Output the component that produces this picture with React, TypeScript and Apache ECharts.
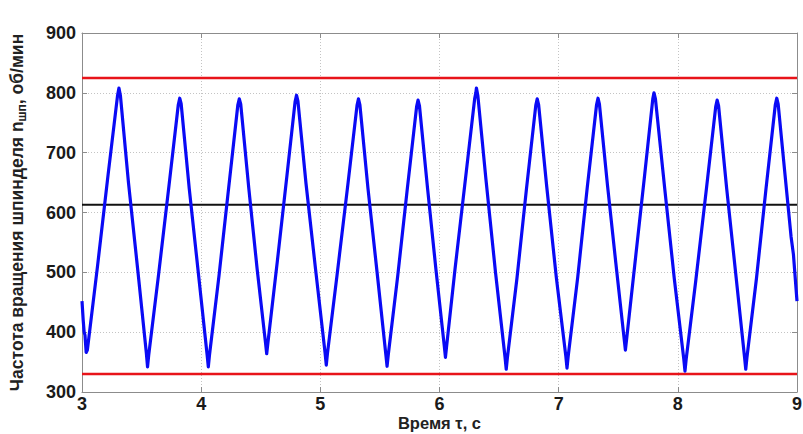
import React, { useEffect, useRef } from "react";
import * as echarts from "echarts";

// Time, s
const timeS: number[] = [
  3.0, 3.01, 3.018, 3.025, 3.035, 3.045, 3.13, 3.22, 3.298, 3.31, 3.322, 3.39, 3.47, 3.54, 3.55,
  3.56, 3.64, 3.73, 3.808, 3.82, 3.832, 3.9, 3.98, 4.05, 4.06,
  4.07, 4.15, 4.23, 4.308, 4.32, 4.332, 4.4, 4.47, 4.54, 4.55,
  4.56, 4.64, 4.72, 4.788, 4.8, 4.812, 4.88, 4.96, 5.04, 5.05,
  5.06, 5.14, 5.23, 5.308, 5.32, 5.332, 5.4, 5.48, 5.55, 5.56,
  5.57, 5.65, 5.73, 5.808, 5.82, 5.832, 5.9, 5.97, 6.04, 6.05,
  6.06, 6.13, 6.22, 6.295, 6.305, 6.31, 6.322, 6.39, 6.47, 6.55, 6.56,
  6.57, 6.65, 6.73, 6.808, 6.82, 6.832, 6.9, 6.98, 7.06, 7.07,
  7.08, 7.16, 7.24, 7.318, 7.33, 7.342, 7.41, 7.48, 7.55, 7.56,
  7.57, 7.64, 7.72, 7.79, 7.8, 7.812, 7.89, 7.97, 8.05, 8.06,
  8.07, 8.15, 8.24, 8.318, 8.33, 8.342, 8.41, 8.49, 8.56, 8.57,
  8.58, 8.66, 8.74, 8.818, 8.83, 8.842, 8.9, 8.95, 8.97, 9.0,
];

// Spindle speed, rpm
const speedRpm: number[] = [
  452, 420, 400, 395, 366, 370, 510, 665, 795, 808, 796, 650, 500, 365, 342,
  362, 492, 645, 780, 791, 782, 640, 492, 362, 342,
  362, 495, 640, 780, 790, 781, 640, 505, 382, 364,
  382, 520, 662, 785, 796, 786, 648, 505, 365, 345,
  365, 495, 645, 779, 790, 780, 640, 493, 362, 343,
  362, 495, 640, 777, 788, 778, 640, 505, 377, 358,
  377, 505, 660, 790, 800, 808, 795, 655, 500, 358, 338,
  358, 490, 640, 779, 790, 780, 643, 492, 360, 340,
  360, 492, 642, 780, 791, 781, 645, 515, 388, 370,
  388, 515, 660, 790, 800, 790, 640, 490, 355, 335,
  355, 485, 640, 777, 788, 778, 640, 490, 358, 338,
  358, 490, 640, 780, 791, 781, 662, 560, 530, 452,
];

const upperLimit = 825;
const lowerLimit = 330;
const meanLevel = 613;

const xTicks = [3, 4, 5, 6, 7, 8, 9];
const yTicks = [300, 400, 500, 600, 700, 800, 900];

export default function App() {
  const ref = useRef<HTMLDivElement>(null);

  useEffect(() => {
    if (!ref.current) return;
    const chart = echarts.init(ref.current, null, { renderer: "svg" });
    const frame = "#8c8c8c";
    const font = "'Liberation Sans', Arial, sans-serif";
    const speedData = timeS.map((t, i) => [t, speedRpm[i]]);
    const xMin = xTicks[0];
    const xMax = xTicks[xTicks.length - 1];
    const yMin = yTicks[0];
    const yMax = yTicks[yTicks.length - 1];

    chart.setOption({
      animation: false,
      backgroundColor: "#ffffff",
      grid: {
        left: 82,
        right: 6,
        top: 33,
        bottom: 42,
        containLabel: false,
        outerBoundsMode: "none",
      },
      xAxis: [
        {
          type: "value",
          min: xMin,
          max: xMax,
          interval: 1,
          name: "Время τ, с",
          nameLocation: "middle",
          nameGap: 22,
          nameMoveOverlap: false,
          nameTextStyle: {
            fontFamily: font,
            fontSize: 16.5,
            fontWeight: "bold",
            color: "#222",
            lineHeight: 18,
          },
          axisLine: { show: true, lineStyle: { color: frame, width: 1 } },
          axisTick: { show: true, inside: true, length: 5, lineStyle: { color: frame } },
          axisLabel: { fontFamily: font, fontSize: 18, fontWeight: "bold", color: "#1a1a1a", margin: 3 },
          splitLine: { show: true, lineStyle: { color: "#c4c4c4", type: [1, 2], width: 1 } },
        },
        {
          type: "value",
          position: "top",
          min: xMin,
          max: xMax,
          interval: 1,
          axisLine: { show: true, lineStyle: { color: frame, width: 1 } },
          axisTick: { show: true, inside: true, length: 5, lineStyle: { color: frame } },
          axisLabel: { show: false },
          splitLine: { show: false },
        },
      ],
      yAxis: [
        {
          type: "value",
          min: yMin,
          max: yMax,
          interval: 100,
          name: "Частота вращения шпинделя n{sub|шп}, об/мин",
          nameLocation: "middle",
          nameRotate: 90,
          nameGap: 54,
          nameMoveOverlap: false,
          nameTextStyle: {
            fontFamily: font,
            fontSize: 17.5,
            fontWeight: "bold",
            color: "#222",
            lineHeight: 22,
            rich: {
              sub: {
                fontFamily: font,
                fontSize: 12,
                fontWeight: "bold",
                color: "#222",
                verticalAlign: "bottom",
                lineHeight: 22,
                padding: [10, 0, 0, 0],
              },
            },
          },
          axisLine: { show: true, lineStyle: { color: frame, width: 1 } },
          axisTick: { show: true, inside: true, length: 5, lineStyle: { color: frame } },
          axisLabel: { fontFamily: font, fontSize: 18, fontWeight: "bold", color: "#1a1a1a", margin: 6 },
          splitLine: { show: true, lineStyle: { color: "#c4c4c4", type: [1, 2], width: 1 } },
        },
        {
          type: "value",
          position: "right",
          min: yMin,
          max: yMax,
          interval: 100,
          axisLine: { show: true, lineStyle: { color: frame, width: 1 } },
          axisTick: { show: true, inside: true, length: 5, lineStyle: { color: frame } },
          axisLabel: { show: false },
          splitLine: { show: false },
        },
      ],
      series: [
        {
          type: "line",
          data: [[xMin, upperLimit], [xMax, upperLimit]],
          showSymbol: false,
          lineStyle: { color: "#e8141a", width: 2.5 },
          silent: true,
        },
        {
          type: "line",
          data: [[xMin, lowerLimit], [xMax, lowerLimit]],
          showSymbol: false,
          lineStyle: { color: "#e8141a", width: 2.5 },
          silent: true,
        },
        {
          type: "line",
          data: [[xMin, meanLevel], [xMax, meanLevel]],
          showSymbol: false,
          lineStyle: { color: "#111111", width: 2 },
          silent: true,
        },
        {
          type: "line",
          data: speedData,
          showSymbol: false,
          lineStyle: { color: "#0a0af5", width: 3.2, join: "round" },
          silent: true,
        },
      ],
    });
    return () => chart.dispose();
  }, []);

  return (
    <div
      ref={ref}
      style={{ position: "fixed", left: 0, top: 0, width: 803, height: 434, background: "#fff" }}
    />
  );
}
